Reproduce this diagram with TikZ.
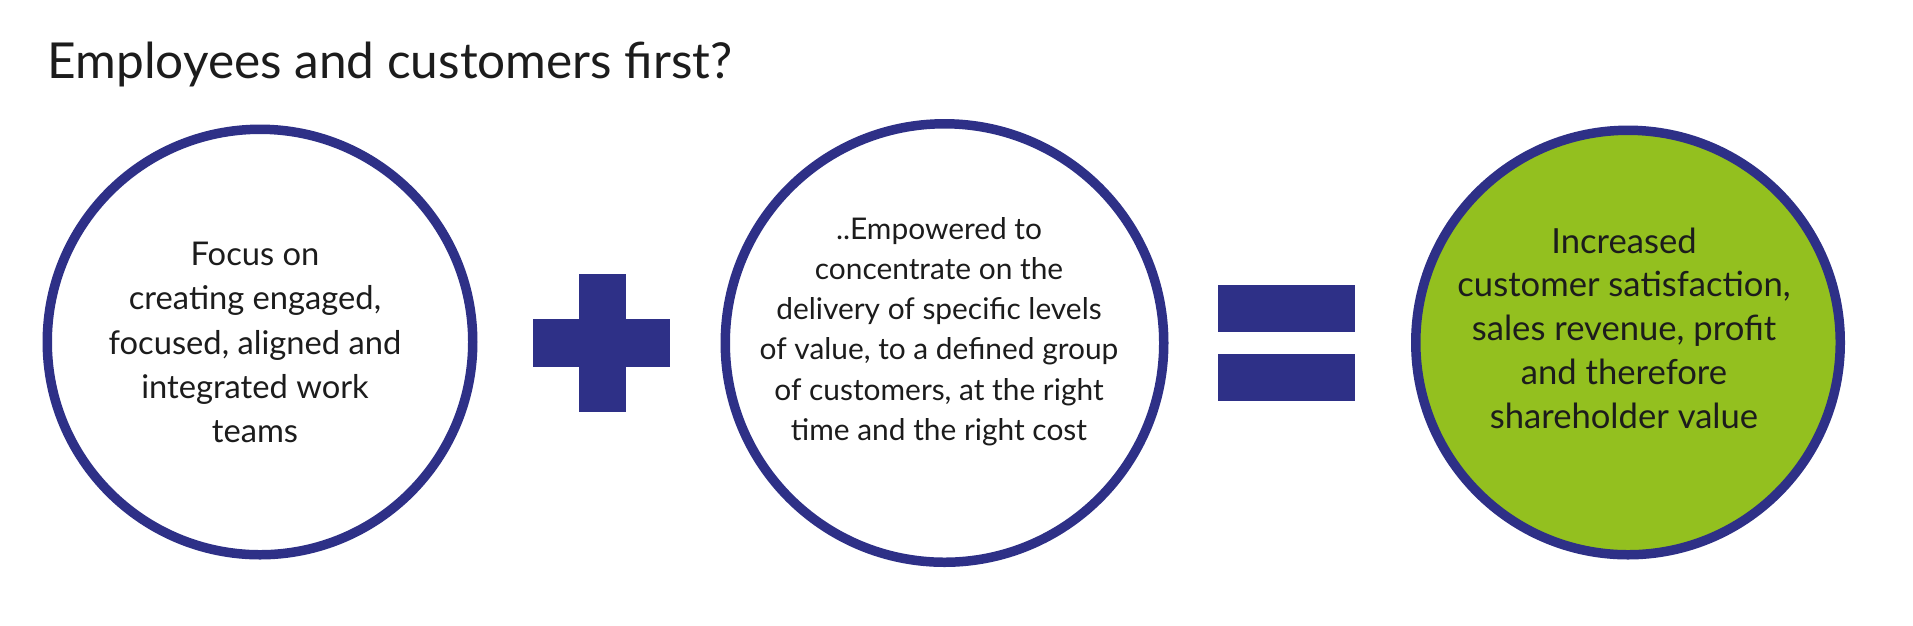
\documentclass[tikz,border=0pt]{standalone}
\usepackage{fontspec}
\setmainfont{Lato}
\definecolor{navy}{RGB}{46,48,135}
\definecolor{lime}{RGB}{147,192,31}
\definecolor{ink}{RGB}{28,28,28}
\begin{document}
\begin{tikzpicture}[x=0.1mm,y=-0.1mm,
  ring/.style={circle, draw=navy, line width=2.7pt, inner sep=0pt},
  bodytext/.style={align=center, text=ink, inner sep=0pt},
  bar/.style={fill=navy}]
\useasboundingbox (0,0) rectangle (1913,625);
\fill[white] (0,0) rectangle (1913,625);
% title
\node[anchor=base west, text=ink, inner sep=0pt, font={\fontsize{14.1}{17}\selectfont}] (title) at (47,78)
  {Employees and customers first?};
% circles
\node[ring, minimum size=42.55mm] (c1) at (260,342) {};
\node[ring, minimum size=43.85mm] (c2) at (944.5,343) {};
\node[ring, fill=lime, minimum size=42.45mm] (c3) at (1628,342.5) {};
% texts
\node[bodytext, font={\fontsize{9.3}{12.59}\selectfont}] (t1) at (255,342.5)
  {Focus on\\creating engaged,\\focused, aligned and\\integrated work\\teams};
\node[bodytext, font={\fontsize{8.5}{11.44}\selectfont}] (t2) at (939,331.5)
  {..Empowered to\\concentrate on the\\delivery of specific levels\\of value, to a defined group\\of customers, at the right\\time and the right cost};
\node[bodytext, font={\fontsize{9.85}{12.46}\selectfont}] (t3) at (1624,328)
  {Increased\\customer satisfaction,\\sales revenue, profit\\and therefore\\shareholder value};
% plus
\fill[bar] (533,319) rectangle (670,367);
\fill[bar] (579,274) rectangle (626,412);
% equals
\fill[bar] (1218,285) rectangle (1355,332);
\fill[bar] (1218,354) rectangle (1355,401);
\end{tikzpicture}
\end{document}
